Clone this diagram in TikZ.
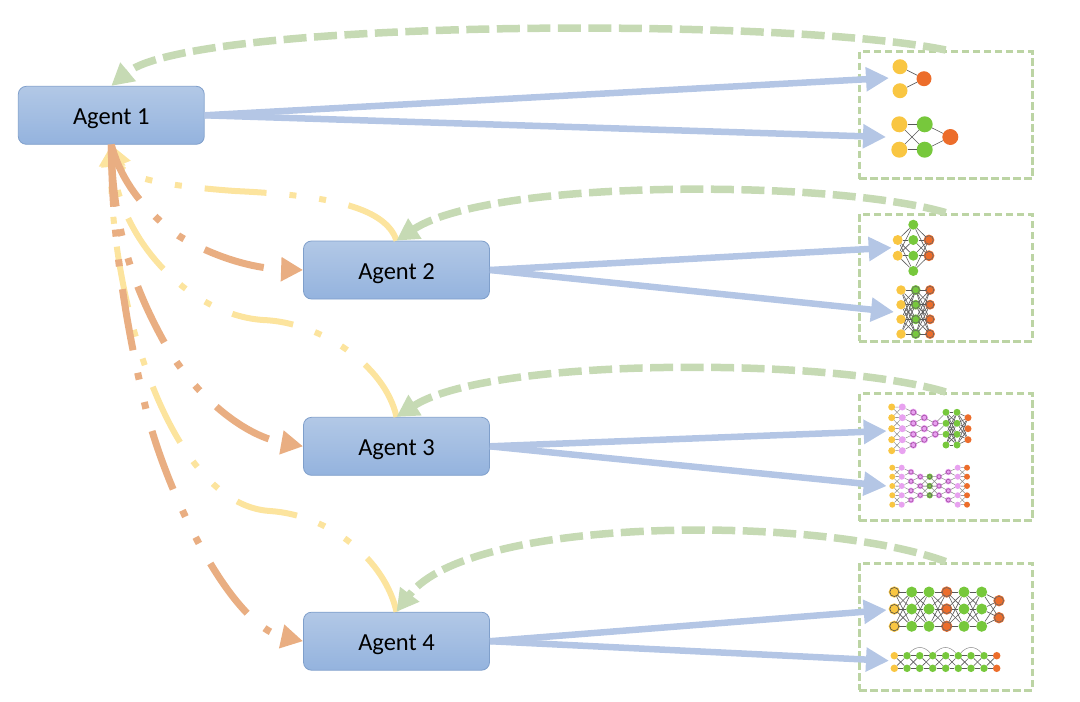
\documentclass[tikz,border=0pt]{standalone}
\usepackage{fontspec}
\setmainfont{Carlito}
\usetikzlibrary{arrows.meta}
\definecolor{yelC}{HTML}{F9C642}
\definecolor{grnC}{HTML}{77C83C}
\definecolor{ornC}{HTML}{EC6D2B}
\definecolor{pnkC}{HTML}{E8A2F0}
\definecolor{bluLink}{HTML}{B4C6E5}
\definecolor{grnLink}{HTML}{C6DAB4}
\definecolor{grnBox}{HTML}{BCD4A4}
\definecolor{yelLink}{HTML}{FCE49E}
\definecolor{ornLink}{HTML}{E9AE82}
\definecolor{bluTop}{HTML}{B2C8E6}
\definecolor{bluBot}{HTML}{94B3DE}
\definecolor{bluEdge}{HTML}{7F9FCB}
\newcommand{\netlayer}[4]{\foreach \y [count=\i] in {#3} \node[#4] (#1-\i) at (#2,\y) {};}
\newcommand{\netlink}[4]{\foreach \i in {1,...,#2} \foreach \j in {1,...,#4} \draw[netedge] (#1-\i) -- (#3-\j);}
% wide layer #1 to narrow layer #2 with #3 nodes, nearest neighbours only
\newcommand{\netnear}[3]{\foreach \i [evaluate=\i as \k using int(\i+1)] in {1,...,#3} \draw[lightedge] (#1-\i) -- (#2-\i) (#1-\k) -- (#2-\i);}
% two layers of #3+1 nodes, straight and crossed
\newcommand{\netcross}[3]{\foreach \i [evaluate=\i as \k using int(\i+1)] in {1,...,#3} \draw[lightedge] (#1-\i) -- (#2-\i) (#1-\k) -- (#2-\i) (#1-\i) -- (#2-\k) (#1-\k) -- (#2-\k);}
\tikzset{
    agent/.style={draw=bluEdge, line width=.8pt, rounded corners=8pt, top color=bluTop, bottom color=bluBot, minimum width=186pt, minimum height=58pt, text height=18.6pt, text depth=0pt, font=\fontsize{24.5}{28}\selectfont},
    netbox/.style={draw=grnBox, line width=3pt, dash pattern=on 7.5pt off 3.5pt, minimum width=173pt, minimum height=127pt},
    netedge/.style={draw=black!65, line width=.6pt},
    lightedge/.style={draw=black!45, line width=.5pt},
    nd/.style n args={2}{circle, inner sep=0pt, fill=#1, minimum size=#2},
    rd/.style n args={3}{circle, inner sep=0pt, fill=#1, draw=#1, double=#3, double distance=.6pt, line width=.8pt, minimum size=#2},
    bluarrow/.style={draw=bluLink, line width=6.5pt, -{Triangle[length=23pt,width=23pt,fill=bluLink]}},
    grnarrow/.style={draw=grnLink, line width=7.5pt, dash pattern=on 23pt off 7.5pt, -{Triangle[length=22pt,width=23pt,fill=grnLink]}},
    yelarrow/.style={draw=yelLink, line width=6pt, dash pattern=on 62pt off 23pt on 7pt off 23pt on 7pt off 23pt, -{Triangle[length=22pt,width=23pt,fill=yelLink]}},
    ornarrow/.style={draw=ornLink, line width=7pt, dash pattern=on 62pt off 23pt on 7pt off 23pt on 7pt off 23pt, -{Triangle[length=22pt,width=23pt,fill=ornLink]}},
}
\begin{document}
\begin{tikzpicture}[x=1pt,y=-1pt]
    \useasboundingbox (0,0) rectangle (1080,702);
    % agents
    \node[agent] (agent1) at (111.3,115.3) {Agent 1};
    \node[agent] (agent2) at (396.5,270) {Agent 2};
    \node[agent] (agent3) at (396.5,446.3) {Agent 3};
    \node[agent] (agent4) at (396.5,641.2) {Agent 4};
    % boxes
    \node[netbox] (box1) at (945.7,115) {};
    \node[netbox] (box2) at (945.7,277.6) {};
    \node[netbox] (box3) at (945.7,457) {};
    \node[netbox] (box4) at (945.7,626.6) {};
    % network 1
    \netlayer{pa}{900}{66.7,90.7}{nd={yelC}{15pt}}
    \netlayer{pb}{924}{78.7}{nd={ornC}{15pt}}
    \netlink{pa}{2}{pb}{1}
    \netlayer{qa}{899.3}{124.3,149.7}{nd={yelC}{16pt}}
    \netlayer{qb}{924.7}{124.3,149.7}{nd={grnC}{16pt}}
    \netlayer{qc}{950.3}{137}{nd={ornC}{16pt}}
    \netlink{qa}{2}{qb}{2}
    \netlink{qb}{2}{qc}{1}
    % network 2
    \netlayer{ra}{897.7}{240,255.7}{nd={yelC}{10pt}}
    \netlayer{rb}{913.3}{224.7,240,255.7,271}{nd={grnC}{10pt}}
    \netlayer{rc}{929}{240,255.7}{rd={ornC}{8.5pt}{black!60}}
    \netlink{ra}{2}{rb}{4}
    \netlink{rb}{4}{rc}{2}
    \netlayer{sa}{901}{290,304.7,319.3,334}{nd={yelC}{9.5pt}}
    \netlayer{sb}{915.7}{290,304.7,319.3,334}{rd={grnC}{7.5pt}{black!60}}
    \netlayer{sc}{930}{290,304.7,319.3,334}{rd={ornC}{7.5pt}{black!60}}
    \netlink{sa}{4}{sb}{4}
    \netlink{sb}{4}{sc}{4}
    % network 3
    \netlayer{ta}{891.7}{407,417.7,428.7,439.7,450.7}{nd={yelC}{7pt}}
    \netlayer{tb}{902.3}{407,417.7,428.7,439.7,450.7}{nd={pnkC}{7pt}}
    \netlayer{tc}{913.3}{412.3,423.3,434.3,445}{rd={pnkC}{5pt}{violet!70}}
    \netlayer{td}{924.3}{417.7,428.7,439.7}{rd={pnkC}{5pt}{violet!70}}
    \netlayer{te}{935.3}{423.3,434.3}{rd={pnkC}{5pt}{violet!70}}
    \netlayer{tf}{946}{412.3,423.3,434.3,445}{nd={grnC}{7pt}}
    \netlayer{tg}{957}{412.3,423.3,434.3,445}{nd={grnC}{7pt}}
    \netlayer{th}{968}{417.7,428.7,439.7}{nd={ornC}{7pt}}
    \netcross{ta}{tb}{4}
    \netnear{tb}{tc}{4}
    \netnear{tc}{td}{3}
    \netnear{td}{te}{2}
    \netnear{tf}{te}{2}
    \netlink{tf}{4}{tg}{4}
    \netlink{tg}{4}{th}{3}
    \netlayer{ua}{892.3}{467.7,476.7,486,495.3,504.7}{nd={yelC}{6pt}}
    \netlayer{ub}{901.7}{467.7,476.7,486,495.3,504.7}{nd={pnkC}{6pt}}
    \netlayer{uc}{911}{472,481.3,490.7,500}{rd={pnkC}{4pt}{violet!70}}
    \netlayer{ud}{920.3}{476.7,486,495.3}{rd={pnkC}{4pt}{violet!70}}
    \netlayer{ue}{929.7}{476.7,486,495.3}{rd={grnC}{4pt}{black!60}}
    \netlayer{uf}{939}{476.7,486,495.3}{rd={pnkC}{4pt}{violet!70}}
    \netlayer{ug}{948.3}{472,481.3,490.7,500}{rd={pnkC}{4pt}{violet!70}}
    \netlayer{uh}{957.7}{467.7,476.7,486,495.3,504.7}{nd={pnkC}{6pt}}
    \netlayer{ui}{967}{467.7,476.7,486,495.3,504.7}{nd={ornC}{6pt}}
    \netcross{ua}{ub}{4}
    \netnear{ub}{uc}{4}
    \netnear{uc}{ud}{3}
    \netcross{ud}{ue}{2}
    \netcross{ue}{uf}{2}
    \netnear{ug}{uf}{3}
    \netnear{uh}{ug}{4}
    \netcross{uh}{ui}{4}
    % network 4
    \netlayer{va}{894.3}{592,609,626.3}{rd={yelC}{9pt}{black!70}}
    \netlayer{vb}{911.7}{592,609,626.3}{nd={grnC}{11pt}}
    \netlayer{vc}{929}{592,609,626.3}{nd={grnC}{11pt}}
    \netlayer{vd}{946.7}{592,609,626.3}{rd={ornC}{9pt}{black!60}}
    \netlayer{ve}{964}{592,609,626.3}{nd={grnC}{11pt}}
    \netlayer{vf}{981.7}{592,609,626.3}{nd={grnC}{11pt}}
    \netlayer{vg}{999}{600.7,617.7}{rd={ornC}{9pt}{black!60}}
    \netlink{va}{3}{vb}{3}
    \netlink{vb}{3}{vc}{3}
    \netlink{vc}{3}{vd}{3}
    \netlink{vd}{3}{ve}{3}
    \netlink{ve}{3}{vf}{3}
    \netlink{vf}{3}{vg}{2}
    \netlayer{wa}{894.3}{655.7,668.3}{nd={yelC}{7.5pt}}
    \netlayer{wb}{907}{655.7,668.3}{nd={grnC}{7.5pt}}
    \netlayer{wc}{919.7}{655.7,668.3}{nd={grnC}{7.5pt}}
    \netlayer{wd}{932.7}{655.7,668.3}{nd={grnC}{7.5pt}}
    \netlayer{we}{945.7}{655.7,668.3}{nd={grnC}{7.5pt}}
    \netlayer{wf}{958.3}{655.7,668.3}{nd={grnC}{7.5pt}}
    \netlayer{wg}{971}{655.7,668.3}{nd={grnC}{7.5pt}}
    \netlayer{wh}{984}{655.7,668.3}{nd={grnC}{7.5pt}}
    \netlayer{wi}{996.7}{655.7,668.3}{nd={ornC}{7.5pt}}
    \netlink{wa}{2}{wb}{2}
    \netlink{wb}{2}{wc}{2}
    \netlink{wc}{2}{wd}{2}
    \netlink{wd}{2}{we}{2}
    \netlink{we}{2}{wf}{2}
    \netlink{wf}{2}{wg}{2}
    \netlink{wg}{2}{wh}{2}
    \netlink{wh}{2}{wi}{2}
    \draw[lightedge] (wb-1) .. controls +(9,-10) and +(-9,-10) .. (wd-1);
    \draw[lightedge] (wd-1) .. controls +(9,-10) and +(-9,-10) .. (wf-1);
    \draw[lightedge] (wf-1) .. controls +(9,-10) and +(-9,-10) .. (wh-1);
    % links
    \draw[yelarrow] (agent2.north) .. controls (385,205) and (320,195) .. (235,191) .. controls (180,187) and (125,180) .. (agent1.south);
    \draw[yelarrow] (agent3.north) .. controls (385,365) and (320,322) .. (263,320) .. controls (190,315) and (120,240) .. (agent1.south);
    \draw[yelarrow] (agent4.north) .. controls (385,560) and (330,515) .. (270,511) .. controls (170,505) and (110,300) .. (agent1.south);
    \draw[ornarrow] (agent1.south) .. controls (118,170) and (135,205) .. (179,236) .. controls (205,252) and (245,268) .. (agent2.west);
    \draw[ornarrow] (agent1.south) .. controls (112,220) and (130,280) .. (163,340) .. controls (190,390) and (240,435) .. (agent3.west);
    \draw[ornarrow] (agent1.south) .. controls (112,220) and (120,300) .. (145,405) .. controls (165,490) and (230,625) .. (agent4.west);
    \draw[grnarrow] (box1.north) .. controls (780,16) and (190,20) .. (agent1.north);
    \draw[grnarrow] (box2.north) .. controls (830,179) and (490,179) .. (agent2.north);
    \draw[grnarrow] (box3.north) .. controls (830,357) and (490,357) .. (agent3.north);
    \draw[grnarrow] (box4.north) .. controls (820,515) and (470,515) .. (agent4.north);
    \coordinate (in1) at (889,78);
    \coordinate (in2) at (886,137);
    \coordinate (in3) at (891.7,247.7);
    \coordinate (in4) at (894,312);
    \coordinate (in5) at (886.7,431);
    \coordinate (in6) at (886.7,486);
    \coordinate (in7) at (886.7,610);
    \coordinate (in8) at (889,660.7);
    \draw[bluarrow] (agent1.east) -- (in1);
    \draw[bluarrow] (agent1.east) -- (in2);
    \draw[bluarrow] (agent2.east) -- (in3);
    \draw[bluarrow] (agent2.east) -- (in4);
    \draw[bluarrow] (agent3.east) -- (in5);
    \draw[bluarrow] (agent3.east) -- (in6);
    \draw[bluarrow] (agent4.east) -- (in7);
    \draw[bluarrow] (agent4.east) -- (in8);
\end{tikzpicture}
\end{document}
